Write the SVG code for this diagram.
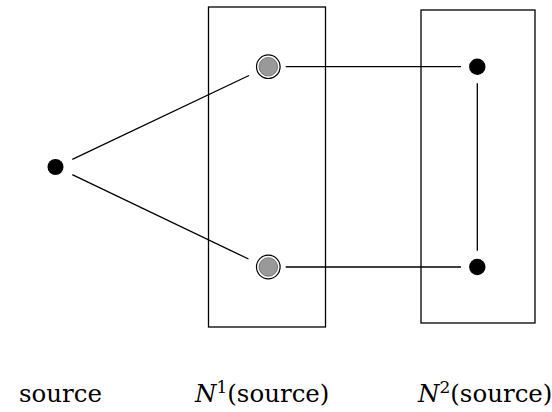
<svg xmlns="http://www.w3.org/2000/svg" width="552" height="412" viewBox="0 0 552 412">
<style>
.box{fill:none;stroke:#000;stroke-width:1.3}
.edge{stroke:#000;stroke-width:1.3;fill:none}
.dot{fill:#000}
.ring{fill:#fff;stroke:#000;stroke-width:1.2}
.gray{fill:#999;stroke:#666;stroke-width:0.8}
.lbl{font-family:"DejaVu Serif",serif;font-size:24.5px;fill:#000}
.it{font-style:italic}
</style>
<rect width="552" height="412" fill="#fff"/>
<g id="box1"><rect class="box" x="208.5" y="7" width="117" height="320"/></g>
<g id="box2"><rect class="box" x="421" y="10" width="114" height="313"/></g>
<g id="connectors">
<line class="edge" x1="72.3" y1="159.3" x2="249" y2="75.5"/>
<line class="edge" x1="72.3" y1="174.7" x2="248.5" y2="259"/>
<line class="edge" x1="285.7" y1="66.7" x2="461" y2="66.7"/>
<line class="edge" x1="285.7" y1="267" x2="461" y2="267"/>
<line class="edge" x1="477.3" y1="83.3" x2="477.3" y2="250.7"/>
</g>
<g id="source"><circle class="dot" cx="55.5" cy="167" r="8"/></g>
<g id="n1a"><circle class="ring" cx="268.3" cy="66.7" r="11.8"/><circle class="gray" cx="268.3" cy="66.7" r="9.3"/></g>
<g id="n1b"><circle class="ring" cx="268.3" cy="267" r="11.8"/><circle class="gray" cx="268.3" cy="267" r="9.3"/></g>
<g id="n2a"><circle class="dot" cx="477.3" cy="66.7" r="8.2"/></g>
<g id="n2b"><circle class="dot" cx="477.3" cy="267" r="8.2"/></g>
<g id="labels">
<text class="lbl" x="19" y="402">source</text>
<text class="lbl" x="195" y="402"><tspan class="it">N</tspan><tspan font-size="17" dy="-9.5">1</tspan><tspan dy="9.5">(source)</tspan></text>
<text class="lbl" x="418" y="402"><tspan class="it">N</tspan><tspan font-size="17" dy="-9.5">2</tspan><tspan dy="9.5">(source)</tspan></text>
</g>
</svg>
